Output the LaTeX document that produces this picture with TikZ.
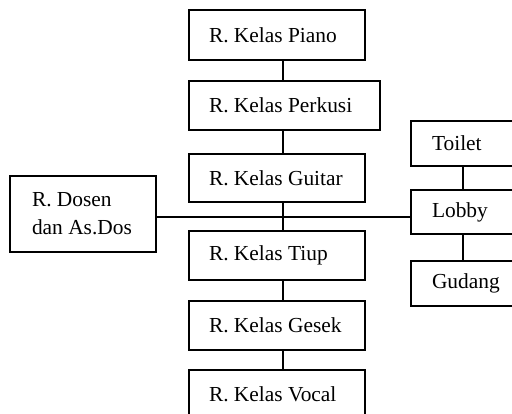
\documentclass[tikz,border=0pt]{standalone}
\usepackage{fontspec}
\setmainfont{Liberation Serif}
\begin{document}
\begin{tikzpicture}[x=1pt,y=-1pt,
  room/.style={draw, line width=1.5pt, rectangle, inner ysep=0pt, inner xsep=20pt,
    align=flush left, font=\fontsize{21.4}{28}\selectfont\frenchspacing},
  link/.style={line width=1.5pt}]
  \clip (0,0) rectangle (512,413);
  \fill[white] (0,0) rectangle (512,413);

  % central column of classrooms
  \node[room, text width=136pt, minimum height=50pt] (piano)   at (277,35)    {\mbox{R. Kelas Piano}};
  \node[room, text width=151pt, minimum height=49pt] (perkusi) at (284.5,105.5) {\mbox{R. Kelas Perkusi}};
  \node[room, text width=136pt, minimum height=48pt] (guitar)  at (277,178)   {\mbox{R. Kelas Guitar}};
  \node[room, text width=136pt, minimum height=49pt] (tiup)    at (277,255.5) {\mbox{R. Kelas Tiup}};
  \node[room, text width=136pt, minimum height=49pt] (gesek)   at (277,325.5) {\mbox{R. Kelas Gesek}};
  \node[room, text width=136pt, minimum height=48pt] (vocal)   at (277,394)   {\mbox{R. Kelas Vocal}};

  % lecturers' room on the left
  \node[room, inner xsep=22pt, text width=102pt, minimum height=76pt] (dosen) at (83,214)
    {\mbox{R. Dosen}\\\mbox{dan As.Dos}};

  % service rooms on the right
  \node[room, inner xsep=21pt, text width=68pt, minimum height=45pt] (toilet) at (466,143.5) {Toilet};
  \node[room, inner xsep=21pt, text width=68pt, minimum height=44pt] (lobby)  at (466,212)   {Lobby};
  \node[room, inner xsep=21pt, text width=68pt, minimum height=45pt] (gudang) at (466,283.5) {Gudang};

  \coordinate (hub) at (283,217);
  \coordinate (spine) at (463,212);

  % connectors
  \draw[link] (piano.south -| hub) -- (perkusi.north -| hub);
  \draw[link] (perkusi.south -| hub) -- (guitar.north -| hub);
  \draw[link] (guitar.south -| hub) -- (tiup.north -| hub);
  \draw[link] (tiup.south -| hub) -- (gesek.north -| hub);
  \draw[link] (gesek.south -| hub) -- (vocal.north -| hub);
  \draw[link] (dosen.east |- hub) -- (lobby.west |- hub);
  \draw[link] (toilet.south -| spine) -- (lobby.north -| spine);
  \draw[link] (lobby.south -| spine) -- (gudang.north -| spine);
\end{tikzpicture}
\end{document}
